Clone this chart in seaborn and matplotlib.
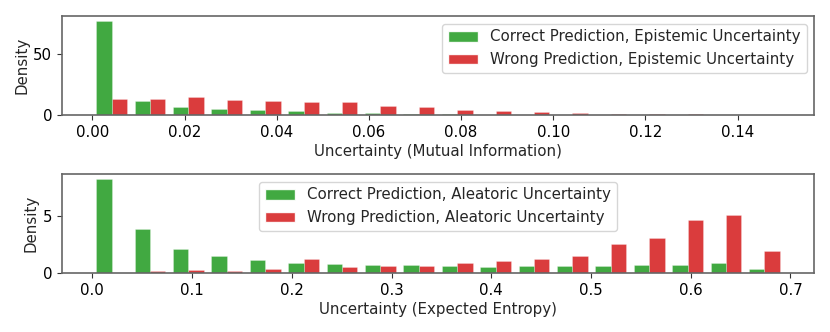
import numpy as np
import pandas as pd
import matplotlib
matplotlib.use("Agg")
import matplotlib.pyplot as plt
from matplotlib.patches import Patch
import seaborn as sns

# ---------------- data ----------------
n_bins = 18
mi_max = 0.15            # upper edge of mutual-information bins
ent_max = np.log(2)      # upper edge of expected-entropy bins

mi_correct = [77.7, 11.8, 6.8, 5.0, 3.8, 3.0, 2.0, 1.5, 1.2, 0.6, 0.35, 0.2,
              0.15, 0.1, 0.06, 0.05, 0.03, 0.02]
mi_wrong = [13.0, 13.3, 14.7, 12.3, 11.4, 10.8, 10.5, 7.8, 6.2, 4.5, 3.2, 2.1,
            1.7, 1.2, 0.9, 0.5, 0.3, 0.2]

ent_correct = [8.34, 3.93, 2.16, 1.54, 1.15, 0.89, 0.77, 0.71, 0.68, 0.59,
               0.56, 0.59, 0.59, 0.65, 0.74, 0.74, 0.92, 0.33]
ent_wrong = [0.0, 0.15, 0.27, 0.15, 0.36, 1.27, 0.53, 0.59, 0.59, 0.92, 1.04,
             1.21, 1.54, 2.54, 3.08, 4.70, 5.12, 1.95]

top_labels = ["Correct Prediction, Epistemic Uncertainty",
              "Wrong Prediction, Epistemic Uncertainty"]
bot_labels = ["Correct Prediction, Aleatoric Uncertainty",
              "Wrong Prediction, Aleatoric Uncertainty"]
top_xlabel = "Uncertainty (Mutual Information)"
bot_xlabel = "Uncertainty (Expected Entropy)"
ylabel = "Density"
top_xticks = [0.00, 0.02, 0.04, 0.06, 0.08, 0.10, 0.12, 0.14]
top_yticks = [0, 50]
bot_xticks = [0.0, 0.1, 0.2, 0.3, 0.4, 0.5, 0.6, 0.7]
bot_yticks = [0, 5]

GREEN = "#2ca02c"
RED = "#d62728"
ALPHA = 0.9

# ---------------- style ----------------
sns.set_style("ticks")
plt.rcParams["font.family"] = ["DejaVu Sans"]
FS = 10.8
plt.rcParams.update({
    "axes.edgecolor": "0.4",
    "axes.linewidth": 1.2,
    "xtick.color": "0.2",
    "ytick.color": "0.2",
    "xtick.labelcolor": "black",
    "ytick.labelcolor": "black",
    "xtick.major.size": 3.5,
    "ytick.major.size": 3.5,
    "xtick.labelsize": FS,
    "ytick.labelsize": FS,
    "axes.labelsize": FS,
    "legend.fontsize": FS,
})

fig = plt.figure(figsize=(8.3, 3.32), dpi=100)
W, H = 830, 332
ax1 = fig.add_axes([62 / W, 1 - 115 / H, 752 / W, 99 / H])
ax2 = fig.add_axes([62 / W, 1 - 273 / H, 752 / W, 99 / H])


def panel(ax, correct, wrong, upper, labels, xlabel, xticks, yticks, loc, fmt):
    edges = np.linspace(0, upper, n_bins + 1)
    centers = (edges[:-1] + edges[1:]) / 2
    df = pd.DataFrame({
        "value": np.concatenate([centers, centers]),
        "weight": np.concatenate([correct, wrong]),
        "group": [labels[0]] * n_bins + [labels[1]] * n_bins,
    })
    sns.histplot(data=df, x="value", weights="weight", hue="group",
                 hue_order=labels, palette={labels[0]: GREEN, labels[1]: RED},
                 bins=[float(e) for e in edges], multiple="dodge", shrink=0.8,
                 stat="count", common_norm=False, alpha=ALPHA,
                 edgecolor=(1, 1, 1, 0.35), linewidth=0.5, legend=False, ax=ax)
    ax.set_xticks(xticks)
    ax.set_xticklabels([fmt.format(t) for t in xticks])
    ax.set_yticks(yticks)
    ax.set_xlabel(xlabel, labelpad=3)
    ax.set_ylabel(ylabel, labelpad=3)
    handles = [Patch(facecolor=GREEN, alpha=ALPHA, label=labels[0]),
               Patch(facecolor=RED, alpha=ALPHA, label=labels[1])]
    ax.legend(handles=handles, loc=loc, frameon=True)


panel(ax1, mi_correct, mi_wrong, mi_max, top_labels, top_xlabel,
      top_xticks, top_yticks, "upper right", "{:.2f}")
panel(ax2, ent_correct, ent_wrong, ent_max, bot_labels, bot_xlabel,
      bot_xticks, bot_yticks, "upper center", "{:.1f}")

fig.savefig("out.png", dpi=100)
